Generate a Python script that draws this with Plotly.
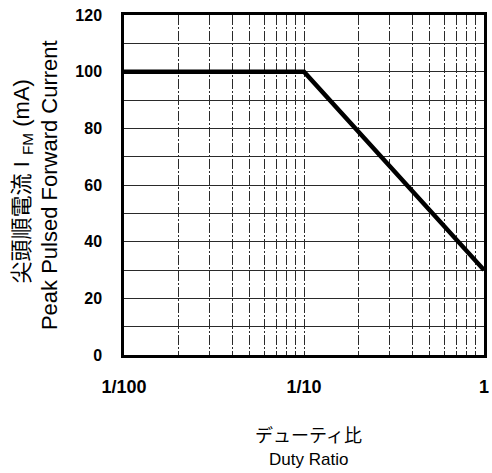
import plotly.graph_objects as go

# Derating curve: peak pulsed forward current vs. duty ratio
duty_ratio = [0.01, 0.1, 1.0]
peak_current_ma = [100, 100, 30]

# Axis ticks / grid positions
x_grid_vals = [m * 10 ** e for e in (-2, -1) for m in range(1, 10)] + [1.0]
x_tick_text = {0.01: "1/100", 0.1: "1/10", 1.0: "1"}
y_grid_vals = list(range(0, 121, 10))
y_label_vals = list(range(0, 121, 20))

LATIN = "Liberation Sans, Arial, sans-serif"
MIXED = "Liberation Sans, Noto Sans CJK JP, sans-serif"

fig = go.Figure()
fig.add_trace(go.Scatter(
    x=duty_ratio, y=peak_current_ma, mode="lines",
    line=dict(color="black", width=4.5), showlegend=False, hoverinfo="skip",
))

xt = []
for v in x_grid_vals:
    label = ""
    for k, s in x_tick_text.items():
        if abs(v - k) < 1e-9:
            label = s
    xt.append(label)

fig.update_xaxes(
    type="log", range=[-2, 0],
    tickvals=x_grid_vals, ticktext=xt, ticks="",
    showgrid=True, gridcolor="#2a2a2a", gridwidth=1, griddash="10px,2px,2px,2px",
    showline=True, linecolor="black", linewidth=2.5, mirror=True,
    tickfont=dict(family=LATIN, size=18, color="black", weight="bold"),
    ticklabelstandoff=14, zeroline=False,
)
fig.update_yaxes(
    range=[0, 120],
    tickvals=y_grid_vals,
    ticktext=[str(v) if v in y_label_vals else "" for v in y_grid_vals],
    ticks="",
    showgrid=True, gridcolor="#2a2a2a", gridwidth=1,
    showline=True, linecolor="black", linewidth=2.5, mirror=True,
    tickfont=dict(family=LATIN, size=16, color="black", weight="bold"),
    ticklabelstandoff=16, zeroline=False,
)

annotations = [
    dict(text="尖頭順電流 I <sub>FM</sub> (mA)", x=-0.282, y=0.512, textangle=-90,
         font=dict(family=MIXED, size=22, color="black")),
    dict(text="Peak Pulsed Forward Current", x=-0.208, y=0.5, textangle=-90,
         font=dict(family=LATIN, size=22, color="black")),
    dict(text="デューティ比", x=0.513, y=-0.238,
         font=dict(family=MIXED, size=18, color="black")),
    dict(text="Duty Ratio", x=0.513, y=-0.306,
         font=dict(family=LATIN, size=17, color="black")),
]
for a in annotations:
    a.update(xref="paper", yref="paper", showarrow=False,
             xanchor="center", yanchor="middle")
fig.update_layout(
    width=492, height=473,
    margin=dict(l=124, r=3, t=15, b=118),
    paper_bgcolor="white", plot_bgcolor="white",
    annotations=annotations,
)

fig.write_html("out.html")
